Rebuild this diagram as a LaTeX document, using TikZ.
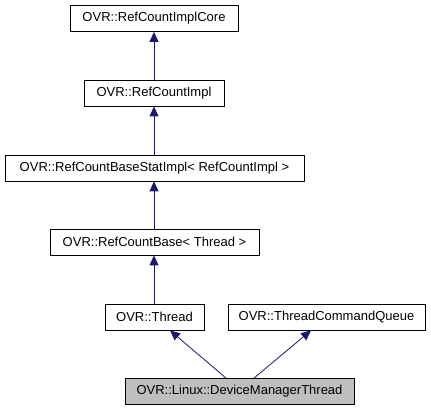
\documentclass[tikz,border=0pt]{standalone}
\usepackage{fontspec}
\setmainfont{Liberation Sans}
\usetikzlibrary{arrows.meta}
\definecolor{edgeblue}{HTML}{191970}
\begin{document}
\begin{tikzpicture}[x=1pt,y=-1pt,
  cls/.style={draw=black, line width=0.8pt, fill=white, minimum height=26pt, inner xsep=0pt, inner ysep=0pt, font=\fontsize{13}{15}\selectfont, text=black},
  cur/.style={cls, fill=black!25},
  inh/.style={draw=edgeblue, line width=0.8pt, -{Triangle[length=10pt,width=9pt,fill=edgeblue]}}]
\useasboundingbox (0,0) rectangle (431,411);
\node[cls, minimum width=168pt] (core) at (154,18.5) {OVR::RefCountImplCore};
\node[cls, minimum width=140pt] (impl) at (154,93) {OVR::RefCountImpl};
\node[cls, minimum width=299pt] (stat) at (154.5,168) {OVR::RefCountBaseStatImpl< RefCountImpl >};
\node[cls, minimum width=209pt] (base) at (154.5,242) {OVR::RefCountBase< Thread >};
\node[cls, minimum width=99pt] (thread) at (154.5,317) {OVR::Thread};
\node[cls, minimum width=197pt] (tcq) at (326.5,317) {OVR::ThreadCommandQueue};
\node[cur, minimum width=229pt] (dmt) at (239.5,391.5) {OVR::Linux::DeviceManagerThread};
\draw[inh] (impl.north) -- (core.south);
\draw[inh] (stat.north -| impl.north) -- (impl.south);
\draw[inh] (base.north -| impl.north) -- (stat.south -| impl.north);
\draw[inh] (thread.north -| impl.north) -- (base.south -| impl.north);
\draw[inh] ([xshift=-13.5pt]dmt.north) -- ([xshift=15.5pt]thread.south);
\draw[inh] ([xshift=14.5pt]dmt.north) -- ([xshift=-15.5pt]tcq.south);
\end{tikzpicture}
\end{document}
